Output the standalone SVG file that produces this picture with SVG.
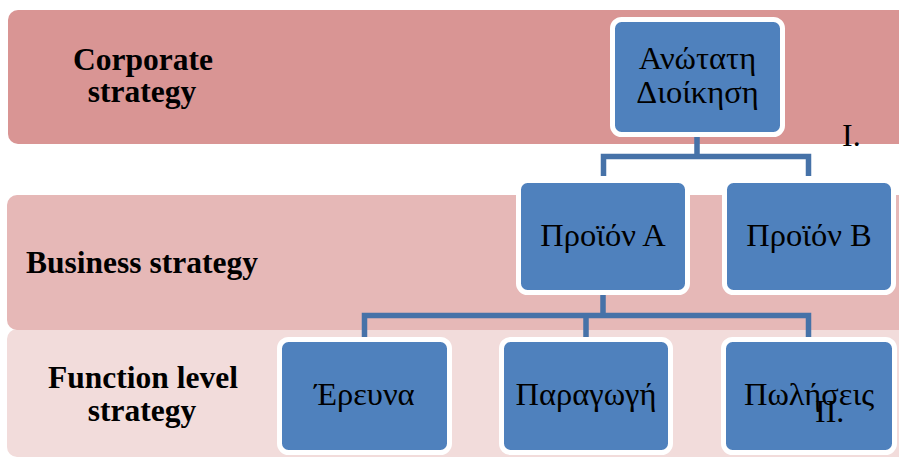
<svg xmlns="http://www.w3.org/2000/svg" width="899" height="459" viewBox="0 0 899 459">
  <style>
    text { font-family: 'Liberation Serif', 'DejaVu Serif', 'Times New Roman', serif; fill: #000; }
    .band-label { font-weight: bold; font-size: 31.5px; text-anchor: middle; }
    .node rect { fill: #4F81BD; stroke: #FFFFFF; stroke-width: 5; }
    .node text { font-size: 32.5px; text-anchor: middle; }
    .mark { font-size: 32px; }
    .conn { fill: none; stroke: #4672A8; stroke-width: 5.5; stroke-linejoin: miter; stroke-linecap: butt; }
  </style>

  <rect width="899" height="459" fill="#FFFFFF"/>

  <!-- strategy level bands -->
  <g id="bands">
    <rect id="band-function" x="7" y="329" width="910" height="128" rx="10" fill="#F2DCDB"/>
    <rect id="band-business" x="7" y="195" width="910" height="135" rx="10" fill="#E6B8B7"/>
    <rect id="band-corporate" x="8" y="10" width="910" height="134" rx="10" fill="#D99594"/>
  </g>

  <g id="band-labels">
    <text class="band-label" x="143" y="70">Corporate</text>
    <text class="band-label" x="142" y="102">strategy</text>
    <text class="band-label" x="142" y="273">Business strategy</text>
    <text class="band-label" x="143" y="388">Function level</text>
    <text class="band-label" x="142" y="421">strategy</text>
  </g>

  <!-- connectors -->
  <g id="connectors">
    <path class="conn" d="M697,133 V156.5 M603.5,176 V156.5 H808.5 V176"/>
    <path class="conn" d="M603,292 V315.5 M364.5,337 V315.5 H808.5 V337 M586,315.5 V337"/>
  </g>

  <!-- organisation nodes -->
  <g id="node-management" class="node">
    <rect x="612.5" y="19.5" width="170" height="115" rx="9"/>
    <text x="697.5" y="69">Ανώτατη</text>
    <text x="697.5" y="103">Διοίκηση</text>
  </g>
  <g id="node-product-a" class="node">
    <rect x="518.5" y="180.5" width="169" height="112" rx="9"/>
    <text x="603" y="246">Προϊόν Α</text>
  </g>
  <g id="node-product-b" class="node">
    <rect x="724.5" y="180.5" width="169" height="112" rx="9"/>
    <text x="809" y="246">Προϊόν Β</text>
  </g>
  <g id="node-research" class="node">
    <rect x="279.5" y="339.5" width="170" height="113" rx="9"/>
    <text x="364.5" y="405">Έρευνα</text>
  </g>
  <g id="node-production" class="node">
    <rect x="501.5" y="339.5" width="169" height="113" rx="9"/>
    <text x="586" y="405">Παραγωγή</text>
  </g>
  <g id="node-sales" class="node">
    <rect x="723.5" y="339.5" width="171" height="113" rx="9"/>
    <text x="809" y="405">Πωλήσεις</text>
  </g>

  <!-- section numerals -->
  <text class="mark" x="842" y="146">I.</text>
  <text class="mark" x="815" y="422">II.</text>
</svg>
